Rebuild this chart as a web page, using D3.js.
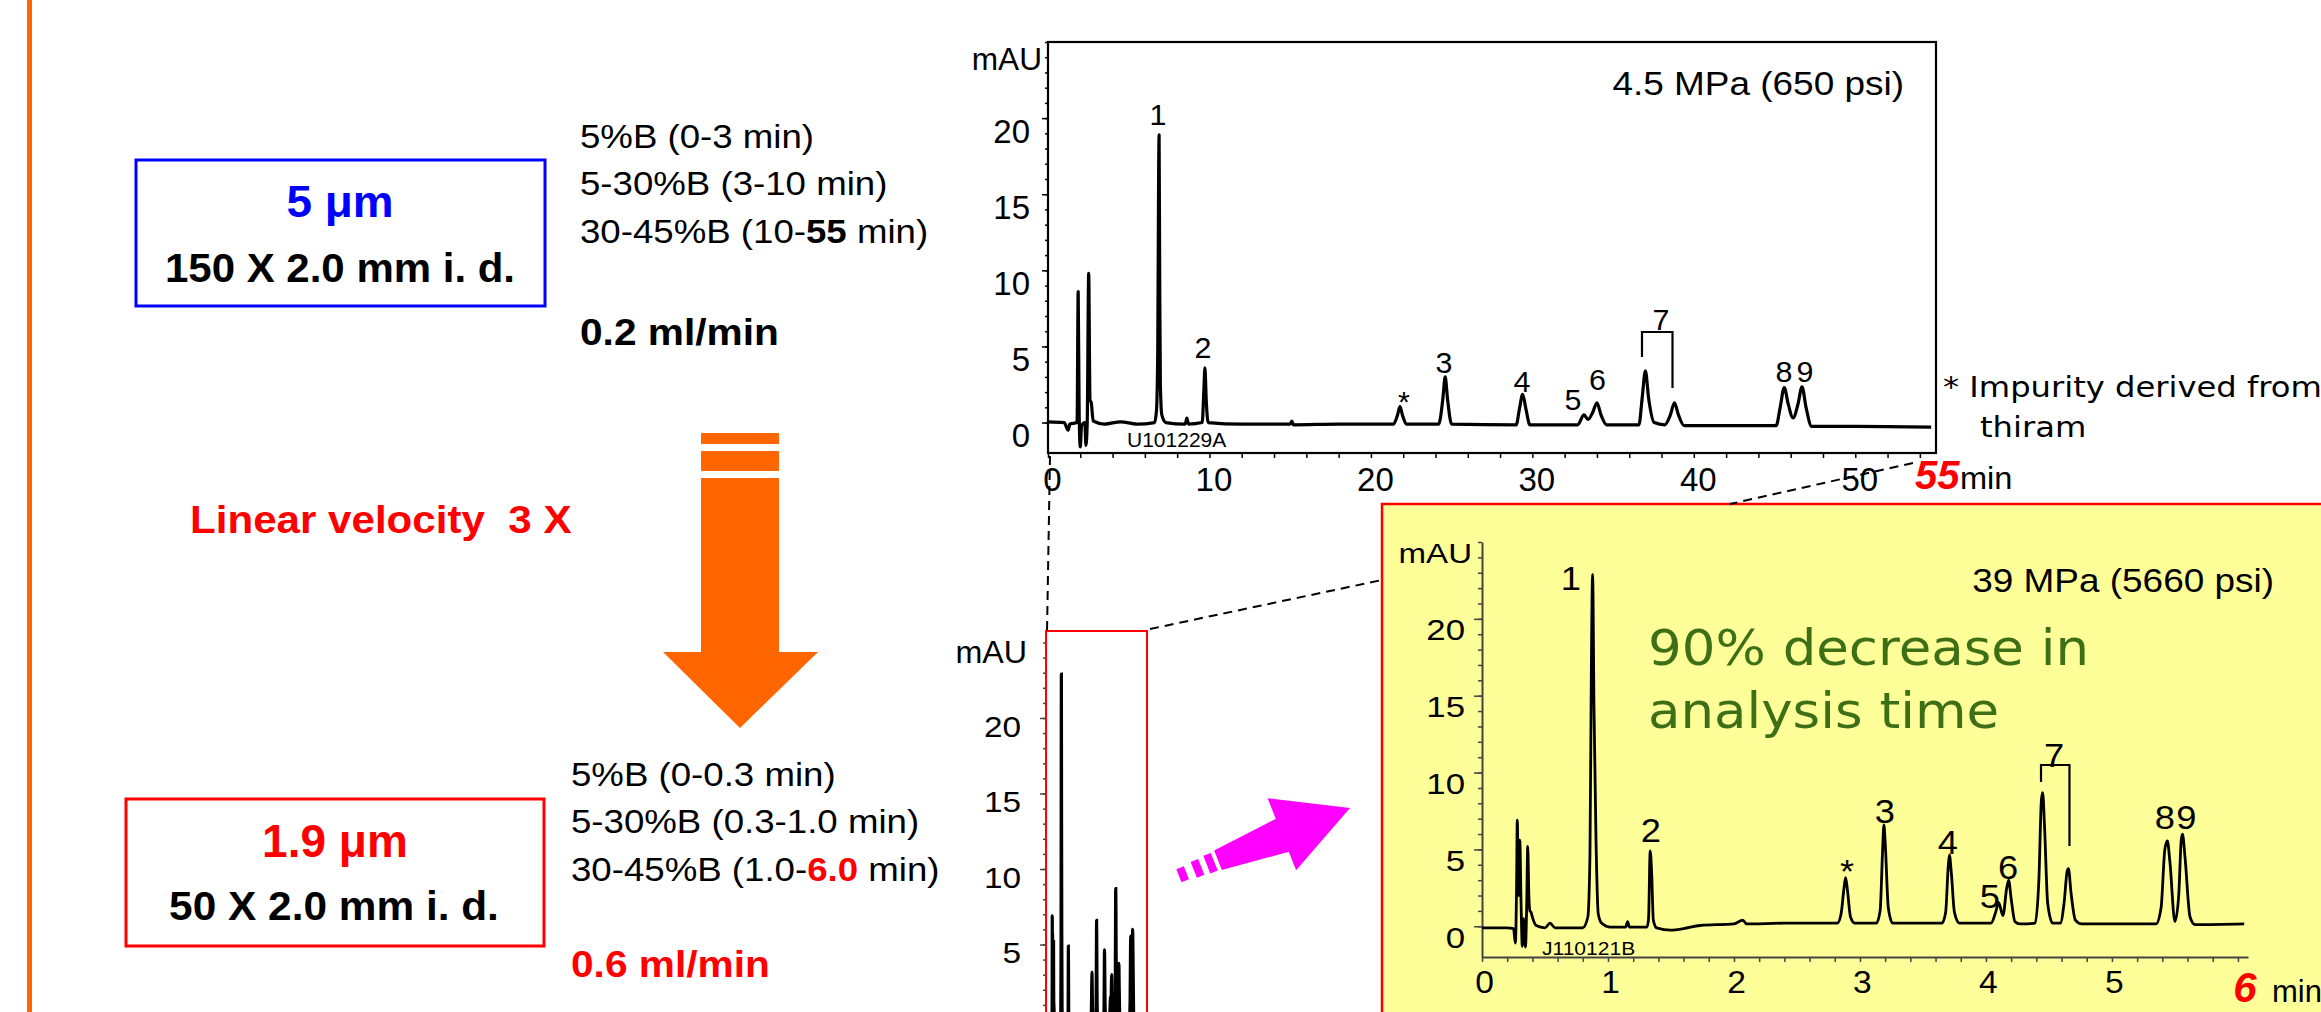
<!DOCTYPE html>
<html><head><meta charset="utf-8">
<script src="https://cdn.jsdelivr.net/npm/d3@7"></script>
<style>body{margin:0;background:#fff;overflow:hidden}svg{display:block}text{white-space:pre}</style>
</head><body>
<svg id="c" width="2321" height="1012"></svg>
<script>
// ---------------- DATA ----------------
// 5 um column, 55 min run: [time (min), signal (mAU)]
const slowTrace = [
 [0,0.05],[1.0,0.0],[1.25,-0.5],[1.35,-0.1],[1.8,0.0],[1.87,8.6],[1.93,0.5],[2.0,-1.6],[2.08,-0.2],
 [2.28,0.0],[2.35,-1.5],[2.43,0.0],[2.52,9.8],[2.6,1.5],[2.68,1.3],[2.8,0.1],[3.5,-0.1],[4.5,0.05],
 [5.5,-0.1],[6.6,0.0],[6.72,0.8],[6.8,5.0],[6.85,16],[6.88,18.9],[6.92,9],[6.96,2.5],[7.05,0.5],
 [7.3,0.0],[8.5,-0.1],[8.6,0.3],[8.7,-0.1],[9.55,0.0],[9.65,2.0],[9.72,3.6],[9.8,1.5],[9.92,0.0],
 [12,-0.1],[15,-0.1],[15.1,0.1],[15.2,-0.15],[18,-0.1],[21.4,-0.1],[21.65,0.5],[21.8,1.05],[21.95,0.5],
 [22.2,-0.1],[24.2,-0.1],[24.45,1.5],[24.6,3.0],[24.75,1.5],[25.0,-0.1],[29.0,-0.15],[29.2,0.9],
 [29.4,1.85],[29.6,0.9],[29.85,-0.15],[32.8,-0.15],[33.2,0.5],[33.45,0.2],[33.75,0.7],[34.0,1.3],
 [34.25,0.5],[34.6,-0.15],[36.6,-0.15],[36.8,1.6],[37.0,3.4],[37.2,1.6],[37.55,0.0],[38.2,-0.15],
 [38.55,0.5],[38.8,1.3],[39.05,0.5],[39.4,-0.2],[45.1,-0.2],[45.35,1.0],[45.6,2.3],[45.85,1.2],
 [46.15,0.3],[46.45,1.2],[46.7,2.35],[46.95,1.0],[47.3,-0.25],[50,-0.25],[54.7,-0.3]
];
// 1.9 um column, 6 min run
const fastTrace = [
 [0,-0.1],[0.2,-0.1],[0.25,-0.15],[0.265,-1.1],[0.275,3],[0.28,6.9],[0.29,2],[0.3,5.6],[0.31,1.5],
 [0.32,-1.3],[0.33,0.5],[0.345,-1.35],[0.355,1.5],[0.363,5.2],[0.372,2.0],[0.38,1.0],[0.39,0.9],
 [0.40,0.6],[0.43,0.05],[0.5,-0.1],[0.54,0.2],[0.58,-0.1],[0.8,-0.1],[0.84,0.6],[0.857,4.7],
 [0.868,16.8],[0.878,22.9],[0.889,14.2],[0.905,5.6],[0.923,0.8],[0.95,0.2],[1.02,-0.05],[1.14,-0.05],
 [1.156,0.3],[1.17,-0.05],[1.31,-0.05],[1.322,0.5],[1.335,4.9],[1.347,3.4],[1.36,0.4],[1.386,-0.1],
 [1.5,-0.25],[1.6,-0.15],[1.73,0.05],[2.0,0.15],[2.07,0.4],[2.1,0.15],[2.4,0.2],[2.82,0.2],[2.85,0.8],
 [2.875,2.6],[2.886,3.17],[2.9,2.4],[2.925,0.6],[2.96,0.2],[3.13,0.2],[3.16,1.0],[3.18,5.0],[3.19,6.6],
 [3.2,5.5],[3.225,1.2],[3.26,0.2],[3.65,0.2],[3.68,0.9],[3.70,3.8],[3.71,4.65],[3.725,3.5],[3.75,0.9],
 [3.79,0.2],[4.04,0.2],[4.08,1.0],[4.10,1.55],[4.135,0.7],[4.165,2.5],[4.18,3.0],[4.2,1.8],[4.23,0.3],
 [4.27,0.15],[4.39,0.2],[4.42,3],[4.44,8.2],[4.45,8.7],[4.465,6.5],[4.49,1.5],[4.53,0.2],[4.59,0.2],
 [4.62,1.5],[4.645,3.6],[4.655,3.75],[4.675,2.2],[4.71,0.4],[4.76,0.15],[5.35,0.15],[5.39,1.2],
 [5.42,5.0],[5.44,5.55],[5.46,4.2],[5.5,0.3],[5.53,2.0],[5.55,5.6],[5.56,6.0],[5.58,4.5],[5.62,0.6],
 [5.66,0.1],[6.05,0.15]
];
// peak labels: label text, time, signal at label baseline
const slowLabels = [["1",6.81,19.55],["2",9.6,4.24],["*",22.05,0.7],["3",24.53,3.26],["4",29.36,2.0],
 ["5",32.52,0.82],["6",34.03,2.14],["7",37.97,6.08],["8",45.59,2.66],["9",46.89,2.66]];
const fastLabels = [["1",0.706,21.9],["2",1.341,5.51],["*",2.897,2.8],["3",3.198,6.69],["4",3.698,4.73],
 ["5",4.03,1.22],["6",4.175,3.1],["7",4.54,10.33],["8",5.42,6.3],["9",5.59,6.36]];
// bracket for peak group 7: [tLeft, vTop, vLeftEnd, tRight, vRightEnd]
const slowBracket = [36.79,5.95,4.31,38.68,2.27];
const fastBracket = [4.437,10.49,9.39,4.663,5.22];
// tick labels
const slowXTicks = [0,10,20,30,40,50];
const fastXTicks = [0,1,2,3,4,5];
const yTicks = [0,5,10,15,20];
const midYTicks = [5,10,15,20];

// ---------------- DRAWING ----------------
const SANS = "'Liberation Sans', Arial, Helvetica, sans-serif";
const VERD = "'DejaVu Sans', Verdana, sans-serif";
const svg = d3.select("#c");
svg.append("rect").attr("width",2321).attr("height",1012).attr("fill","#fff");

function label(parent, x, y, str, o = {}) {
  const t = parent.append("text")
    .attr("transform", `translate(${x},${y}) scale(${o.sx || 1},1)`)
    .attr("text-anchor", o.anchor || "start")
    .attr("font-family", o.family || SANS)
    .attr("font-size", o.size || 32)
    .attr("font-weight", o.weight || "normal")
    .attr("font-style", o.style || "normal")
    .attr("fill", o.fill || "#000");
  if (Array.isArray(str)) str.forEach(p => {
    const s = t.append("tspan").text(p.text);
    if (p.weight) s.attr("font-weight", p.weight);
    if (p.fill) s.attr("fill", p.fill);
  });
  else t.text(str);
  return t;
}
function styleTicks(g, color) {
  g.selectAll("line").attr("stroke", color || "#000").attr("stroke-width", 1.5);
  g.selectAll(".domain").attr("stroke", color || "#000").attr("stroke-width", 2);
}

// left orange bar
svg.append("rect").attr("x",27).attr("y",0).attr("width",5).attr("height",1012).attr("fill","#ff6600");

// ---- left text ----
svg.append("rect").attr("x",136).attr("y",160).attr("width",409).attr("height",146)
  .attr("fill","none").attr("stroke","#0000ff").attr("stroke-width",3);
label(svg,340,217,"5 μm",{size:45,weight:"bold",fill:"#0000ff",anchor:"middle",sx:1.02});
label(svg,340,282,"150 X 2.0 mm i. d.",{size:40,weight:"bold",anchor:"middle",sx:1.05});
label(svg,580,148,"5%B (0-3 min)",{size:33,sx:1.11});
label(svg,580,195,"5-30%B (3-10 min)",{size:33,sx:1.11});
label(svg,580,243,[{text:"30-45%B (10-"},{text:"55",weight:"bold"},{text:" min)"}],{size:33,sx:1.11});
label(svg,580,345,"0.2 ml/min",{size:36,weight:"bold",sx:1.13});

label(svg,190,533,"Linear velocity  3 X",{size:39,weight:"bold",fill:"#ff0000",sx:1.08});

// orange arrow
const orange = "#ff6600";
svg.append("rect").attr("x",701).attr("y",433).attr("width",78).attr("height",11).attr("fill",orange);
svg.append("rect").attr("x",701).attr("y",451).attr("width",78).attr("height",20).attr("fill",orange);
svg.append("rect").attr("x",701).attr("y",478).attr("width",78).attr("height",176).attr("fill",orange);
svg.append("path").attr("d","M663,652L818,652L740,728Z").attr("fill",orange);

svg.append("rect").attr("x",126).attr("y",799).attr("width",418).attr("height",147)
  .attr("fill","none").attr("stroke","#ff0000").attr("stroke-width",3);
label(svg,335,857,"1.9 μm",{size:46,weight:"bold",fill:"#ff0000",anchor:"middle",sx:1.0});
label(svg,334,920,"50 X 2.0 mm i. d.",{size:40,weight:"bold",anchor:"middle",sx:1.06});
label(svg,571,786,"5%B (0-0.3 min)",{size:33,sx:1.11});
label(svg,571,833,"5-30%B (0.3-1.0 min)",{size:33,sx:1.11});
label(svg,571,881,[{text:"30-45%B (1.0-"},{text:"6.0",weight:"bold",fill:"#ff0000"},{text:" min)"}],{size:33,sx:1.11});
label(svg,571,977,"0.6 ml/min",{size:36,weight:"bold",fill:"#ff0000",sx:1.13});

// ---- yellow box (drawn early, under chart) ----
svg.append("rect").attr("x",1382).attr("y",504).attr("width",1000).attr("height",600)
  .attr("fill","#ffff99").attr("stroke","#ff0000").attr("stroke-width",2.5);

// ---- TOP CHART ----
const xT = d3.scaleLinear().domain([0,55]).range([1048,1936]);
const yT = d3.scaleLinear().domain([-2,25]).range([453,42]);
const gT = svg.append("g");
gT.append("rect").attr("x",xT(0)).attr("y",yT(25)).attr("width",xT(55)-xT(0)).attr("height",yT(-2)-yT(25))
  .attr("fill","none").attr("stroke","#000").attr("stroke-width",2.2);
gT.append("g").attr("transform",`translate(0,${yT(-2)})`)
  .call(d3.axisBottom(xT).tickValues(d3.range(0,55.01,2)).tickSize(5).tickSizeOuter(0).tickFormat(""))
  .call(g=>g.select(".domain").remove()).call(g=>styleTicks(g));
gT.append("g").attr("transform",`translate(0,${yT(-2)})`)
  .call(d3.axisBottom(xT).tickValues(slowXTicks).tickSize(0).tickFormat(d3.format("d")))
  .call(g=>g.select(".domain").remove())
  .call(g=>g.selectAll("text").attr("y",null).attr("dy",null)
    .attr("transform","translate(4,38) scale(1.0,1)")
    .attr("font-size",33).attr("font-family",SANS).attr("fill","#000"));
gT.append("g").attr("transform",`translate(${xT(0)},0)`)
  .call(d3.axisLeft(yT).tickValues(d3.range(0,25.01,1)).tickSize(3).tickFormat(""))
  .call(g=>g.select(".domain").remove()).call(g=>styleTicks(g));
gT.append("g").attr("transform",`translate(${xT(0)},0)`)
  .call(d3.axisLeft(yT).tickValues(yTicks).tickSize(6).tickFormat(d3.format("d")))
  .call(g=>g.select(".domain").remove()).call(g=>styleTicks(g))
  .call(g=>g.selectAll("text").attr("x",null).attr("dy",null)
    .attr("transform","translate(-18,24) scale(1.0,1)")
    .attr("font-size",33).attr("font-family",SANS).attr("fill","#000"));
label(gT,1042,70,"mAU",{size:31,anchor:"end",sx:1.02});
label(gT,1904,95,"4.5 MPa (650 psi)",{size:33,anchor:"end",sx:1.12});
label(gT,1127,447,"U101229A",{size:21});
const lineT = d3.line().x(d=>xT(d[0])).y(d=>yT(d[1])).curve(d3.curveMonotoneX);
gT.append("path").datum(slowTrace).attr("d",lineT).attr("fill","none").attr("stroke","#000")
  .attr("stroke-width",3.2).attr("stroke-linejoin","round");
slowLabels.forEach(d=>label(gT,xT(d[1]),yT(d[2]),d[0],{size:29,anchor:"middle",sx:1.05}));
gT.append("path").attr("d",
  `M${xT(slowBracket[0])},${yT(slowBracket[2])}V${yT(slowBracket[1])}H${xT(slowBracket[3])}V${yT(slowBracket[4])}`)
  .attr("fill","none").attr("stroke","#000").attr("stroke-width",2.2);
label(svg,1915,489,"55",{size:40,weight:"bold",style:"italic",fill:"#ff0000"});
label(svg,1960,489,"min",{size:31,sx:1.05});
label(svg,1943,397,"* Impurity derived from",{size:28,family:VERD,sx:1.15});
label(svg,1980,437,"thiram",{size:28,family:VERD,sx:1.15});

// ---- dashed zoom lines ----
const dash = [[[1050,456],[1047,632]],[[1150,629],[1382,580]],[[1913,463],[1730,504]]];
dash.forEach(p=>svg.append("line").attr("x1",p[0][0]).attr("y1",p[0][1]).attr("x2",p[1][0]).attr("y2",p[1][1])
  .attr("stroke","#000").attr("stroke-width",2).attr("stroke-dasharray","9,6"));

// ---- MIDDLE (compressed) CHART ----
const xM = d3.scaleLinear().domain([0,6.5]).range([1048,1147]);
const yM = d3.scaleLinear().domain([0,25]).range([1020,642.5]);
const gM = svg.append("g");
gM.append("g").attr("transform","translate(1046,0)")
  .call(d3.axisLeft(yM).tickValues(d3.range(0,25.01,1)).tickSize(3).tickFormat(""))
  .call(g=>g.select(".domain").remove()).call(g=>styleTicks(g,"#444"));
gM.append("g").attr("transform","translate(1046,0)")
  .call(d3.axisLeft(yM).tickValues(midYTicks).tickSize(6).tickFormat(d3.format("d")))
  .call(g=>g.select(".domain").remove()).call(g=>styleTicks(g,"#444"))
  .call(g=>g.selectAll("text").attr("x",null).attr("dy",null)
    .attr("transform","translate(-25,18) scale(1.15,1)")
    .attr("font-size",29).attr("font-family",SANS).attr("fill","#000"));
label(gM,1027,663,"mAU",{size:31,anchor:"end",sx:1.04});
svg.append("clipPath").attr("id","midclip").append("rect").attr("x",1047).attr("y",632).attr("width",99).attr("height",400);
const lineM = d3.line().x(d=>xM(d[0])).y(d=>yM(d[1])).curve(d3.curveMonotoneX);
gM.append("path").datum(fastTrace).attr("d",lineM).attr("clip-path","url(#midclip)")
  .attr("fill","none").attr("stroke","#000").attr("stroke-width",3.2);
gM.append("rect").attr("x",1046).attr("y",631).attr("width",101).attr("height",400)
  .attr("fill","none").attr("stroke","#ff0000").attr("stroke-width",2);

// magenta arrow
const ga = svg.append("g").attr("transform","translate(1350,808) rotate(-21.6)").attr("fill","#ff00ff");
ga.append("path").attr("d","M0,0L-73,-39.5L-73,38Z");
ga.append("path").attr("d","M-142,-10.5L-70,-17.5L-70,18.5L-142,10.5Z");
ga.append("rect").attr("x",-154).attr("y",-9.5).attr("width",8).attr("height",19);
ga.append("rect").attr("x",-168).attr("y",-8.5).attr("width",8).attr("height",17);
ga.append("rect").attr("x",-184).attr("y",-7).attr("width",8).attr("height",14);

// ---- BOTTOM (fast) CHART ----
const xB = d3.scaleLinear().domain([0,6.08]).range([1482,2248]);
const yB = d3.scaleLinear().domain([-2,25]).range([957,542]);
const gB = svg.append("g");
gB.append("g").attr("transform",`translate(0,${yB(-2)})`)
  .call(d3.axisBottom(xB).tickValues(d3.range(0,6.01,0.2)).tickSize(5).tickSizeOuter(0).tickFormat(""))
  .call(g=>styleTicks(g,"#444"));
gB.append("g").attr("transform",`translate(0,${yB(-2)})`)
  .call(d3.axisBottom(xB).tickValues(fastXTicks).tickSize(0).tickFormat(d3.format("d")))
  .call(g=>g.select(".domain").remove())
  .call(g=>g.selectAll("text").attr("y",null).attr("dy",null)
    .attr("transform","translate(2,36) scale(1.05,1)")
    .attr("font-size",32).attr("font-family",SANS).attr("fill","#000"));
gB.append("g").attr("transform",`translate(${xB(0)},0)`)
  .call(d3.axisLeft(yB).tickValues(d3.range(0,25.01,1)).tickSize(4).tickSizeOuter(0).tickFormat(""))
  .call(g=>styleTicks(g,"#444"));
gB.append("g").attr("transform",`translate(${xB(0)},0)`)
  .call(d3.axisLeft(yB).tickValues(yTicks).tickSize(8).tickFormat(d3.format("d")))
  .call(g=>g.select(".domain").remove()).call(g=>styleTicks(g,"#444"))
  .call(g=>g.selectAll("text").attr("x",null).attr("dy",null)
    .attr("transform","translate(-17,21) scale(1.2,1)")
    .attr("font-size",29).attr("font-family",SANS).attr("fill","#000"));
label(gB,1472,563,"mAU",{size:28,anchor:"end",sx:1.18});
label(gB,2274,592,"39 MPa (5660 psi)",{size:33,anchor:"end",sx:1.12});
label(gB,1648,665,"90% decrease in",{size:50,family:VERD,fill:"#3d7016",sx:1.06});
label(gB,1648,728,"analysis time",{size:50,family:VERD,fill:"#3d7016",sx:1.06});
label(gB,1542,955,"J110121B",{size:18,sx:1.17});
const lineB = d3.line().x(d=>xB(d[0])).y(d=>yB(d[1])).curve(d3.curveMonotoneX);
gB.append("path").datum(fastTrace).attr("d",lineB).attr("fill","none").attr("stroke","#000")
  .attr("stroke-width",2.8).attr("stroke-linejoin","round");
fastLabels.forEach(d=>label(gB,xB(d[1]),yB(d[2]),d[0],{size:33,anchor:"middle",sx:1.1}));
gB.append("path").attr("d",
  `M${xB(fastBracket[0])},${yB(fastBracket[2])}V${yB(fastBracket[1])}H${xB(fastBracket[3])}V${yB(fastBracket[4])}`)
  .attr("fill","none").attr("stroke","#000").attr("stroke-width",2.2);
label(gB,xB(6)+7,1002,"6",{size:42,weight:"bold",style:"italic",fill:"#ff0000",anchor:"middle"});
label(gB,2272,1002,"min",{size:31,sx:1.0});
</script>
</body></html>
